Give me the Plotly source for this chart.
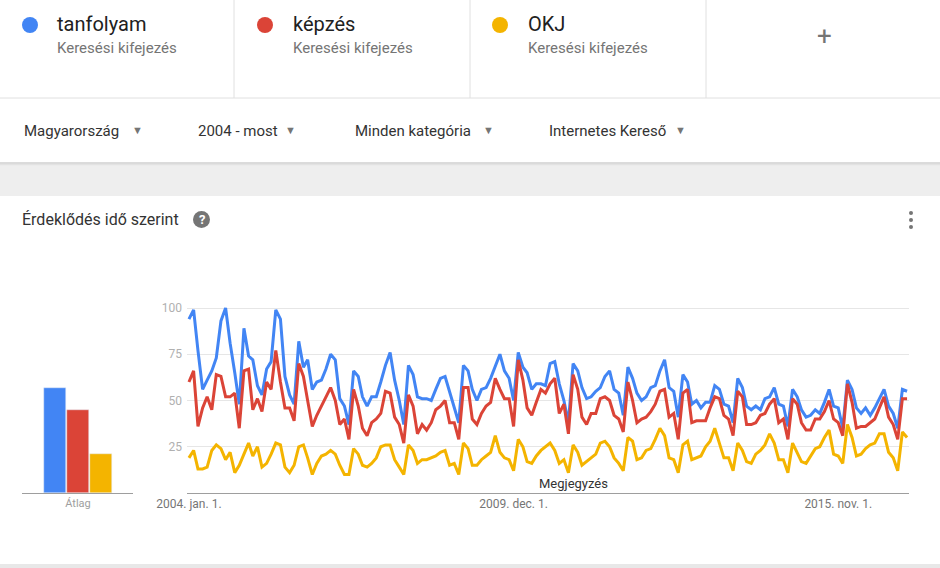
"""
Google Trends style comparison: tanfolyam / képzés / OKJ, Magyarország, 2004 - most.
"""

import pandas as pd
import plotly.graph_objects as go

W, H = 940, 568

# ---------------------------------------------------------------------------
# Data (monthly, 2004-01 .. 2017-02)
# ---------------------------------------------------------------------------
terms = ["tanfolyam", "képzés", "OKJ"]
colors = ["#4285F4", "#DB4437", "#F4B400"]
averages = [57, 45, 21]

tanfolyam = [
    94, 99, 77, 56, 61, 66, 73, 93, 100, 81, 65, 48, 89, 74, 72, 58, 53, 67, 71, 99, 94, 63, 53, 48, 82, 68,
    72, 56, 60, 61, 67, 75, 72, 51, 47, 37, 66, 63, 52, 47, 52, 52, 60, 69, 76, 61, 50, 37, 69, 64, 52, 51,
    51, 50, 56, 62, 63, 55, 47, 38, 69, 66, 56, 50, 56, 57, 62, 68, 75, 66, 62, 50, 76, 68, 65, 56, 59, 59,
    58, 70, 71, 59, 50, 38, 70, 66, 57, 51, 52, 55, 57, 63, 66, 56, 54, 42, 68, 62, 54, 50, 52, 57, 58, 66,
    72, 57, 55, 41, 64, 60, 48, 50, 46, 49, 49, 58, 56, 48, 47, 38, 62, 57, 47, 45, 47, 45, 51, 52, 57, 48, 47,
    36, 56, 52, 45, 41, 42, 45, 43, 49, 56, 47, 46, 35, 61, 56, 46, 43, 46, 42, 46, 51, 56, 47, 43, 35, 56, 55,
]
kepzes = [
    60, 66, 36, 46, 52, 45, 64, 63, 52, 52, 54, 35, 66, 67, 45, 51, 44, 60, 56, 77, 60, 46, 46, 39, 70, 63,
    50, 36, 42, 47, 52, 57, 50, 37, 40, 29, 56, 47, 35, 31, 38, 40, 43, 55, 54, 41, 37, 27, 53, 47, 32, 37,
    34, 38, 45, 47, 50, 38, 38, 29, 57, 57, 40, 37, 43, 47, 49, 62, 56, 51, 51, 36, 72, 61, 46, 42, 49, 56,
    54, 59, 62, 43, 48, 32, 64, 56, 41, 37, 43, 43, 51, 52, 50, 42, 40, 33, 60, 50, 38, 40, 41, 44, 48, 55,
    56, 41, 43, 29, 54, 56, 38, 39, 39, 39, 46, 52, 51, 42, 40, 31, 55, 52, 37, 37, 38, 42, 43, 48, 51, 38, 40,
    29, 51, 48, 38, 34, 34, 40, 40, 44, 50, 40, 38, 31, 59, 49, 35, 36, 36, 38, 40, 46, 52, 41, 37, 29, 51, 51,
]
okj = [
    19, 23, 13, 13, 14, 23, 26, 24, 18, 22, 11, 15, 21, 27, 20, 25, 14, 16, 21, 27, 26, 14, 11, 15, 25, 26,
    19, 10, 16, 20, 21, 23, 21, 15, 10, 10, 24, 21, 15, 14, 16, 19, 25, 26, 26, 18, 14, 10, 26, 23, 16, 18,
    18, 19, 20, 22, 23, 15, 16, 10, 27, 24, 15, 15, 18, 20, 22, 31, 22, 19, 18, 12, 29, 25, 17, 16, 20, 23,
    25, 27, 23, 16, 18, 11, 26, 22, 15, 17, 19, 21, 27, 28, 25, 19, 16, 12, 30, 28, 18, 19, 23, 24, 29, 35,
    31, 19, 18, 11, 26, 28, 18, 19, 20, 25, 28, 35, 27, 19, 19, 12, 27, 23, 17, 16, 21, 23, 26, 32, 27, 18, 18,
    11, 27, 22, 17, 16, 20, 24, 25, 30, 34, 21, 20, 16, 37, 30, 20, 21, 24, 26, 27, 32, 32, 22, 19, 12, 33, 30,
]
months = pd.date_range("2004-01-01", periods=len(tanfolyam), freq="MS")

x_tick_dates = ["2004-01-01", "2009-12-01", "2015-11-01"]
x_tick_labels = ["2004. jan. 1.", "2009. dec. 1.", "2015. nov. 1."]
y_ticks = [25, 50, 75, 100]

filters = ["Magyarország", "2004 - most", "Minden kategória", "Internetes Kereső"]

# ---------------------------------------------------------------------------
# Style
# ---------------------------------------------------------------------------
FONT = "Roboto, Arial, sans-serif"
TEXT = "#333333"
SUBTLE = "#757575"
GRID = "#e6e6e6"
AXIS = "#9e9e9e"
DIVIDER = "#e0e0e0"


def px(x):
    return x / W


def py(y):
    return 1 - y / H


# plot area (in pixels of the page)
PLOT_TOP, PLOT_BOTTOM = 293, 493
Y_MAX = (PLOT_BOTTOM - PLOT_TOP) / 1.85  # 100 sits at y=308

fig = go.Figure()

fig.add_trace(go.Bar(
    x=[0, 1, 2], y=averages, marker_color=colors, width=0.96,
    xaxis="x", yaxis="y", hoverinfo="skip", showlegend=False,
))
for name, vals, col in zip(terms, [tanfolyam, kepzes, okj], colors):
    fig.add_trace(go.Scatter(
        x=months, y=vals, name=name, mode="lines",
        line=dict(color=col, width=3), xaxis="x2", yaxis="y2",
        showlegend=False,
    ))

shapes = []


def shape(kind, x0, x1, y0, y1, **kw):
    # pixel coordinates of the page -> paper coordinates
    shapes.append(dict(type=kind, xref="paper", yref="paper",
                       x0=px(x0), x1=px(x1), y0=py(y0), y1=py(y1), **kw))


# term cards
shape("line", 0, W, 98, 98, line=dict(color=DIVIDER, width=1))
for xd in [234, 470, 706]:
    shape("line", xd, xd, 0, 98, line=dict(color=DIVIDER, width=1))
for cx, col in zip([30, 265, 500], colors):
    shape("circle", cx - 8, cx + 8, 33, 17, fillcolor=col, line_width=0)

# grey band between the filter row and the card (soft shadow on top)
shape("rect", 0, W, 196, 163, fillcolor="#eeeeee", line_width=0)
shape("line", 0, W, 163, 163, line=dict(color="#cfcfcf", width=1.5))
shape("line", 0, W, 164.5, 164.5, line=dict(color="#e2e2e2", width=1.5))
# bottom edge of the card
shape("rect", 0, W, H, 564, fillcolor="#e8e8e8", line_width=0)

# help icon and menu dots
shape("circle", 193, 210, 228, 211, fillcolor=SUBTLE, line_width=0)
for cy in [213, 220, 227]:
    shape("circle", 909, 913, cy + 2, cy - 2, fillcolor=SUBTLE, line_width=0)

annotations = []


def note(x, y, text, size, color=TEXT, xanchor="left"):
    annotations.append(dict(
        x=px(x), y=py(y), xref="paper", yref="paper", text=text, showarrow=False,
        xanchor=xanchor, yanchor="middle", borderpad=0,
        font=dict(family=FONT, size=size, color=color),
    ))


for tx, term in zip([56, 292, 527], terms):
    note(tx, 24, term, 20, "#212121")
    note(tx, 48, "Keresési kifejezés", 15, SUBTLE)
note(824, 36, "+", 26, SUBTLE, xanchor="center")

for fx, ax, label in zip([23, 197, 354, 548], [137, 290, 488, 680], filters):
    note(fx, 131, label, 15, TEXT)
    note(ax, 131, "▼", 11, SUBTLE, xanchor="center")

note(21, 219, "Érdeklődés idő szerint", 16, TEXT)
note(201.5, 219.5, "<b>?</b>", 13, "white", xanchor="center")
note(573, 483, "Megjegyzés", 13, TEXT, xanchor="center")

fig.update_layout(
    width=W, height=H,
    margin=dict(l=0, r=0, t=0, b=0, autoexpand=False),
    paper_bgcolor="white", plot_bgcolor="white",
    font=dict(family=FONT, color=TEXT),
    shapes=shapes, annotations=annotations,
    bargap=0,
    xaxis=dict(
        domain=[px(22), px(133)], range=[-1.435, 3.39],
        tickvals=[1], ticktext=["Átlag"], showgrid=False, zeroline=False,
        showline=True, linecolor=AXIS, linewidth=1, ticks="",
        tickfont=dict(size=11, color=AXIS, family=FONT), fixedrange=True,
    ),
    yaxis=dict(
        domain=[py(PLOT_BOTTOM), py(PLOT_TOP)], range=[0, Y_MAX],
        visible=False, fixedrange=True,
    ),
    xaxis2=dict(
        domain=[px(187), px(909)], range=["2003-12-19", "2017-02-14"],
        type="date", tickvals=x_tick_dates, ticktext=x_tick_labels,
        showgrid=False, zeroline=False, showline=True, linecolor=AXIS, linewidth=1,
        ticks="", tickfont=dict(size=12, color=SUBTLE, family=FONT),
    ),
    yaxis2=dict(
        domain=[py(PLOT_BOTTOM), py(PLOT_TOP)], range=[0, Y_MAX], anchor="x2",
        tickvals=y_ticks, showgrid=True, gridcolor=GRID, gridwidth=1,
        zeroline=False, showline=False, ticks="", ticklabelstandoff=4,
        tickfont=dict(size=12, color="#b0b0b0", family=FONT),
    ),
)

fig.write_html(
    "out.html",
    config={"displayModeBar": False},
    post_script="document.body.style.margin='0';",
)
